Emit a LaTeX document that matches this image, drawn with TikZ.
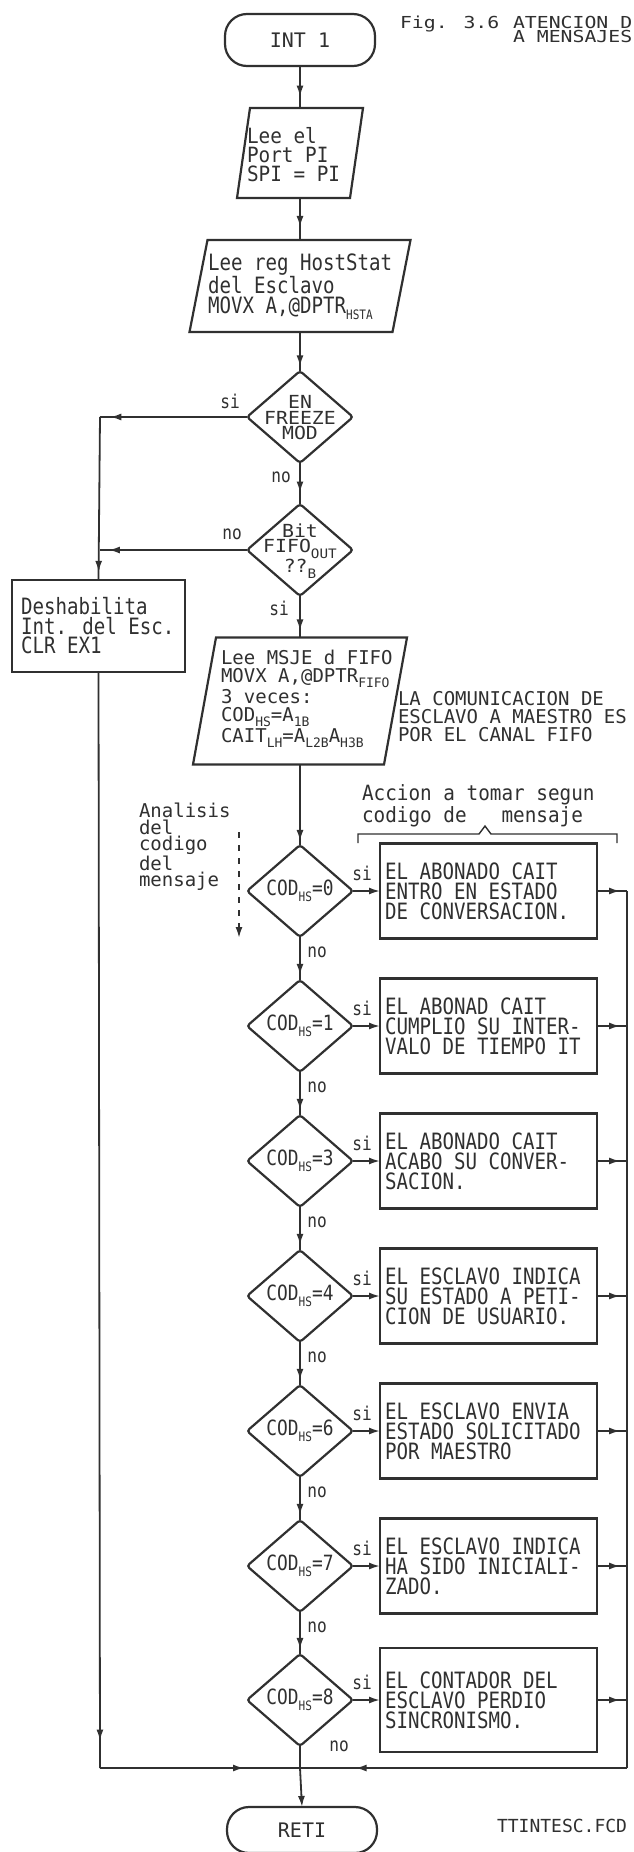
\documentclass[tikz,border=0pt]{standalone}
\usepackage{fontspec}
\usetikzlibrary{shapes.geometric,arrows.meta,decorations.markings}
\newfontfamily\plt[FakeStretch=0.85]{DejaVu Sans Mono}
\newfontfamily\pltm[FakeStretch=0.92]{DejaVu Sans Mono}
\newfontfamily\pltd[FakeStretch=1.1]{DejaVu Sans Mono}
\newfontfamily\pltn{DejaVu Sans Mono}
\newfontfamily\pltw[FakeStretch=1.2]{DejaVu Sans Mono}
\definecolor{ink}{HTML}{303030}
\newcommand\lowtxt[1]{\raisebox{-0.3em}{\fontsize{13}{13}\selectfont #1}}
\newcommand\parashape[2]{\draw[shp] ([xshift=-#2]#1.south west) -- ([xshift=#2]#1.north west) -- ([xshift=#2]#1.north east) -- ([xshift=-#2]#1.south east) -- cycle;}
\begin{document}
\begin{tikzpicture}[x=1pt,y=-1pt,
  every node/.style={text=ink, inner sep=0pt, outer sep=0pt},
  shp/.style={draw=ink, line width=2.2pt},
  conn/.style={color=ink, draw=ink, line width=1.8pt},
  arr/.style={conn, -{Latex[length=11pt,width=7pt]}},
  marrow/.style={postaction={decorate}, decoration={markings, mark=at position #1 with {\arrow{Latex[length=11pt,width=7pt]}}}},
  term/.style={shp, rounded corners=22pt, minimum width=150pt, minimum height=52pt, font=\pltn\fontsize{20}{20}\selectfont},
  pnode/.style={rectangle, draw=none},
  dia/.style={shp, diamond, minimum width=106pt, minimum height=92pt, rounded corners=3pt},
  dtxt/.style={align=center, font=\pltd\fontsize{18}{15.5}\selectfont},
  ctxt/.style={font=\plt\fontsize{21}{21}\selectfont},
  box/.style={shp, rectangle, minimum width=217pt},
  txt/.style={align=left, font=\plt\fontsize{22.5}{#1}\selectfont},
  mtxt/.style={align=left, font=\pltm\fontsize{21}{#1}\selectfont},
  ntxt/.style={align=left, font=\pltn\fontsize{19}{#1}\selectfont},
  lbl/.style={font=\plt\fontsize{19}{19}\selectfont},
  ttl/.style={font=\pltw\fontsize{16.5}{11}\selectfont}
]
\useasboundingbox (0,0) rectangle (633,1852);
\fill[white] (0,0) rectangle (633,1852);

% title
\node[term] (int1) at (300,40) {INT 1};
\node[ttl, anchor=west] (fig) at (400,24) {Fig. 3.6};
\node[ttl, anchor=west, align=left] (head) at (513,29.5) {ATENCION D\\A MENSAJES};

% Lee el Port
\node[pnode, minimum width=113pt, minimum height=90pt] (p1) at (300,153) {};
\parashape{p1}{6.5pt}
\node[mtxt=19, anchor=west] (p1t) at (247,155) {Lee el\\Port PI\\SPI = PI};

% Lee reg HostStat
\node[pnode, minimum width=203pt, minimum height=92pt] (p2) at (300,286) {};
\parashape{p2}{9pt}
\node[txt=19.5, anchor=west] (p2t) at (208,287) {Lee reg HostStat\\del Esclavo\\MOVX A,@DPTR\lowtxt{HSTA}};

% decisions
\node[dia] (d1) at (300,417) {};
\node[dtxt] (d1t) at (300,418) {EN\\FREEZE\\MOD};
\node[dia] (d2) at (300,550) {};
\node[dtxt] (d2t) at (300,551) {Bit\\FIFO\lowtxt{OUT}\\??\lowtxt{B}};

% Deshabilita
\node[shp, rectangle, minimum width=173pt, minimum height=92pt] (desh) at (98.5,626) {};
\node[txt=19.5, anchor=west] (desht) at (21,626) {Deshabilita\\Int. del Esc.\\CLR EX1};

% Lee MSJE FIFO
\node[pnode, minimum width=191pt, minimum height=127pt] (p3) at (300,701) {};
\parashape{p3}{11.5pt}
\node[ntxt=18, anchor=west] (p3t) at (221,699) {Lee MSJE d FIFO\\MOVX A,@DPTR\lowtxt{FIFO}\\3 veces:\\COD\lowtxt{HS}=A\lowtxt{1B}\\CAIT\lowtxt{LH}=A\lowtxt{L2B}A\lowtxt{H3B}};

% notes
\node[ntxt=18, anchor=west] (note) at (398,717) {LA COMUNICACION DE\\ESCLAVO A MAESTRO ES\\POR EL CANAL FIFO};
\node[mtxt=17.5, anchor=west] (acc) at (362,806) {Accion a tomar segun\\codigo de~~~mensaje};
\draw[ink, line width=1.4pt] (358,843) -- (358,834) -- (479,834) -- (485,826) -- (491,834) -- (617,834) -- (617,843);
\node[ntxt=16.5, anchor=west] (anl) at (139,847) {Analisis\\del\\codigo\\del\\mensaje};
\coordinate (da1) at (239,832);
\coordinate (da2) at (239,938);
\draw[conn, dash pattern=on 6pt off 7pt, -{Latex[length=11pt,width=7pt]}] (da1) -- (da2);

% coordinates for side lines
\coordinate (fbtop) at (627,891);
\coordinate (fbbot) at (627,1768);
\coordinate (jn) at (300,1768);
\coordinate (lb) at (100,1768);
\coordinate (cl1) at (100,417);
\coordinate (cl2) at (100,550);

% code analysis chain
\foreach \i/\v/\yy/\hh/\la/\lb/\lc in {
0/0/891/95/{EL ABONADO CAIT}/{ENTRO EN ESTADO}/{DE CONVERSACION.},
1/1/1026/95/{EL ABONAD CAIT}/{CUMPLIO SU INTER-}/{VALO DE TIEMPO IT},
2/3/1161/95/{EL ABONADO CAIT}/{ACABO SU CONVER-}/{SACION.},
3/4/1296/95/{EL ESCLAVO INDICA}/{SU ESTADO A PETI-}/{CION DE USUARIO.},
4/6/1431/95/{EL ESCLAVO ENVIA}/{ESTADO SOLICITADO}/{POR MAESTRO},
5/7/1566/95/{EL ESCLAVO INDICA}/{HA SIDO INICIALI-}/{ZADO.},
6/8/1700/104/{EL CONTADOR DEL}/{ESCLAVO PERDIO}/{SINCRONISMO.}}
{
  \node[dia] (c\i) at (300,\yy) {};
  \node[ctxt] (ct\i) at (300,\yy) {COD\lowtxt{HS}=\v};
  \node[box, minimum height=\hh pt] (b\i) at (488.5,\yy) {};
  \node[txt=20, anchor=west] (bt\i) at (385,\yy) {\la\\\lb\\\lc};
  \node[lbl] (s\i) at (362,\yy-18) {si};
  \draw[arr] (c\i.east) -- (b\i.west);
  \draw[conn, marrow=0.77] (b\i.east) -- (b\i.east -| fbtop);
  \ifnum\i<6
    \node[lbl] (n\i) at (317,\yy+61) {no};
  \fi
  \ifnum\i>0
    \pgfmathtruncatemacro\pv{\i-1}
    \draw[conn, marrow=0.88] (c\pv.south) -- (c\i.north);
  \fi
}
\node[lbl] (n6) at (339,1746) {no};

% main flow
\draw[conn, marrow=0.73] (int1.south) -- (p1.north);
\draw[conn, marrow=0.69] (p1.south) -- (p2.north);
\draw[conn, marrow=0.88] (p2.south) -- (d1.north);
\draw[conn, marrow=0.72] (d1.south) -- (d2.north);
\draw[conn, marrow=0.83] (d2.south) -- (p3.north);
\draw[conn, marrow=0.95] (p3.south) -- (c0.north);
\node[lbl] (ls1) at (230,401) {si};
\node[lbl] (ln1) at (281,477) {no};
\node[lbl] (ln2) at (232,534) {no};
\node[lbl] (ls2) at (279,608) {si};

% left side
\draw[conn, marrow=0.93] (d1.west) -- (cl1);
\draw[conn, marrow=0.95] (cl1) -- (desh.north);
\draw[conn, marrow=0.94] (d2.west) -- (cl2);
\draw[conn, marrow=0.975] (desh.south) -- (lb);
\draw[conn, marrow=0.72] (lb) -- (jn);

% right feedback
\draw[conn] (fbtop) -- (fbbot);
\draw[conn, marrow=0.83] (fbbot) -- (jn);
\draw[conn] (c6.south) -- (jn);

% end
\node[term, minimum height=46pt] (reti) at (302,1830) {RETI};
\draw[arr] (jn) -- (reti.north);
\node[font=\pltn\fontsize{18}{18}\selectfont, anchor=west] (fname) at (497,1826) {TTINTESC.FCD};
\end{tikzpicture}
\end{document}
